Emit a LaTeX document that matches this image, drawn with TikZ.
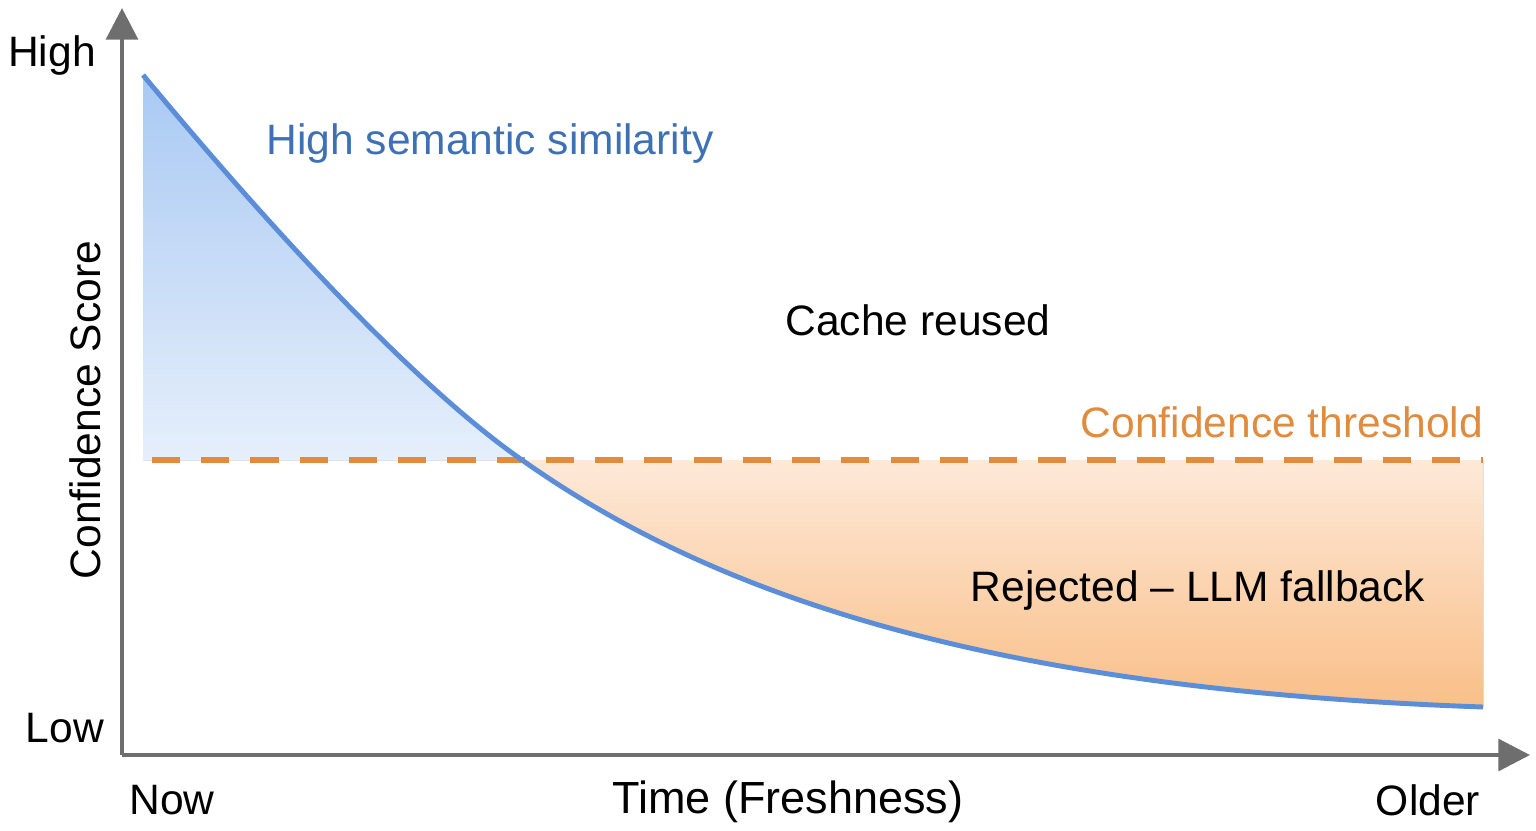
\documentclass[tikz,border=0pt]{standalone}
\usepackage{fontspec}
\setmainfont{Liberation Sans}
\usetikzlibrary{arrows.meta}
\definecolor{axisgray}{HTML}{6E6E6E}
\definecolor{curveblue}{HTML}{5B8DD9}
\definecolor{textblue}{HTML}{3E70B5}
\definecolor{threshorange}{HTML}{E08B3E}
\definecolor{bluetop}{HTML}{A9C9F3}
\definecolor{bluebottom}{HTML}{E6EFFB}
\definecolor{orangetop}{HTML}{FDE9D8}
\definecolor{orangebottom}{HTML}{F9BF88}
\tikzset{
  axis/.style={draw=axisgray, line width=1.2pt, -{Triangle[length=9pt,width=9pt]}},
  lbl/.style={font=\fontsize{12.1}{14}\selectfont, inner sep=0pt},
}
\newcommand{\upperpart}{(143,75) .. controls (330,300) and (450,410) .. (522,460)}
\newcommand{\lowerpart}{(522,460) .. controls (720,600) and (1000,690) .. (1483,707)}
\begin{document}
\begin{tikzpicture}[x=0.01cm, y=-0.01cm]
\useasboundingbox (0,0) rectangle (1536,830);
% shaded regions
\fill[top color=bluetop, bottom color=bluebottom] \upperpart -- (143,460) -- cycle;
\fill[top color=orangetop, bottom color=orangebottom] \lowerpart -- (1483,460) -- cycle;
% axes
\coordinate (origin) at (122,755);
\coordinate (ytip) at (122,8);
\coordinate (xtip) at (1530,755);
\draw[axis] (origin) -- (ytip);
\draw[axis] (origin) -- (xtip);
% threshold
\coordinate (thstart) at (152,460);
\coordinate (thend) at (1483,460);
\draw[threshorange, line width=1.9pt, dash pattern=on 8pt off 6pt] (thstart) -- (thend);
% curve
\draw[curveblue, line width=1.4pt] \upperpart \lowerpart;
% labels
\node[lbl] (high) at (52,55) {High};
\node[lbl] (low) at (65,728) {Low};
\node[lbl, rotate=90] (yname) at (85,410) {Confidence Score};
\node[lbl, textblue] (similar) at (490,143) {High semantic similarity};
\node[lbl] (reused) at (918,320) {Cache reused};
\node[lbl, threshorange] (thname) at (1282,422) {Confidence threshold};
\node[lbl] (rejected) at (1198,590) {Rejected -- LLM fallback};
\node[lbl] (now) at (172,800) {Now};
\node[lbl, font=\fontsize{12.8}{14}\selectfont] (xname) at (788,802) {Time (Freshness)};
\node[lbl] (older) at (1428,800) {Older};
\end{tikzpicture}
\end{document}
